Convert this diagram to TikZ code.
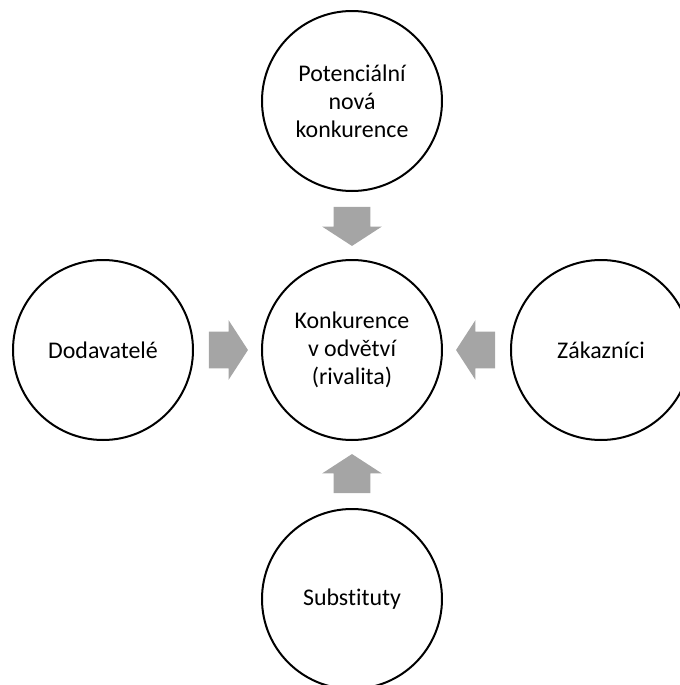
\documentclass[tikz,border=0pt]{standalone}
\usepackage{fontspec}
\setmainfont{Carlito}[Ligatures=NoCommon]
\usetikzlibrary{positioning,shapes.arrows}
\definecolor{sipkaseda}{RGB}{165,165,165}
\tikzset{
kruh/.style={circle, draw, line width=0.04cm, minimum size=3.6cm, inner sep=0pt, align=center, font=\fontsize{13.6}{16}\selectfont},
sipka/.style={single arrow, fill=sipkaseda, draw=none, inner xsep=0pt, inner ysep=0.36cm, minimum height=0.78cm, minimum width=1.18cm, single arrow head extend=0.23cm, single arrow tip angle=114}
}
\begin{document}
\begin{tikzpicture}[node distance=4.98cm, on grid]
\clip (-7.04,-6.7) rectangle (6.56,7.0);
\node[kruh](rival){Konkurence\\v odvětví\\(rivalita)};
\node[kruh, above=of rival](nova){Potenciální\\nová\\konkurence};
\node[kruh, left=of rival](dod){Dodavatelé};
\node[kruh, right=of rival](zak){Zákazníci};
\node[kruh, below=of rival](sub){Substituty};
\node[sipka, rotate=-90, below=2.39cm of nova](s1){};
\node[sipka, right=2.39cm of dod](s2){};
\node[sipka, rotate=180, left=2.39cm of zak](s3){};
\node[sipka, rotate=90, above=2.39cm of sub](s4){};
\end{tikzpicture}
\end{document}
